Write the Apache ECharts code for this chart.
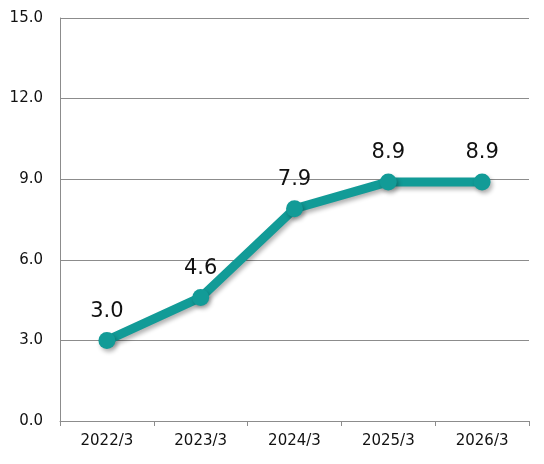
<!DOCTYPE html>
<html>
<head>
<meta charset="utf-8">
<script src="https://cdn.jsdelivr.net/npm/echarts@6/dist/echarts.min.js"></script>
<style>
  html, body { margin: 0; padding: 0; background: #fff; }
  #chart { width: 544px; height: 464px; }
</style>
</head>
<body>
<div id="chart"></div>
<script>
var categories = ['2022/3', '2023/3', '2024/3', '2025/3', '2026/3'];
var values = [3.0, 4.6, 7.9, 8.9, 8.9];

var chart = echarts.init(document.getElementById('chart'));
var option = {
    animation: false,
    grid: { left: 60, right: 15, top: 18, bottom: 43 },
    xAxis: {
        type: 'category',
        data: categories,
        boundaryGap: true,
        axisLine: { lineStyle: { color: '#8c8c8c', width: 1 } },
        axisTick: { show: true, length: 5, lineStyle: { color: '#8c8c8c' } },
        axisLabel: { color: '#111', fontSize: 15, margin: 13, fontFamily: 'DejaVu Sans' }
    },
    yAxis: {
        type: 'value',
        min: 0,
        max: 15,
        interval: 3,
        axisLine: { show: true, lineStyle: { color: '#8c8c8c', width: 1 } },
        axisTick: { show: false },
        splitLine: { lineStyle: { color: '#8c8c8c', width: 1 } },
        axisLabel: {
            color: '#111', fontSize: 15, margin: 17, fontFamily: 'DejaVu Sans',
            formatter: function (v) { return v.toFixed(1); }
        }
    },
    series: [{
        type: 'line',
        data: values,
        symbol: 'circle',
        symbolSize: 17,
        lineStyle: {
            color: '#129b97', width: 9,
            shadowColor: 'rgba(0,0,0,0.3)', shadowBlur: 4, shadowOffsetX: 2, shadowOffsetY: 3
        },
        itemStyle: {
            color: '#129b97',
            shadowColor: 'rgba(0,0,0,0.3)', shadowBlur: 4, shadowOffsetX: 2, shadowOffsetY: 3
        },
        label: {
            show: true,
            position: 'top',
            distance: 10,
            color: '#111',
            fontSize: 21,
            fontFamily: 'DejaVu Sans',
            formatter: function (p) { return p.value.toFixed(1); }
        }
    }]
};
chart.setOption(option);
</script>
</body>
</html>
